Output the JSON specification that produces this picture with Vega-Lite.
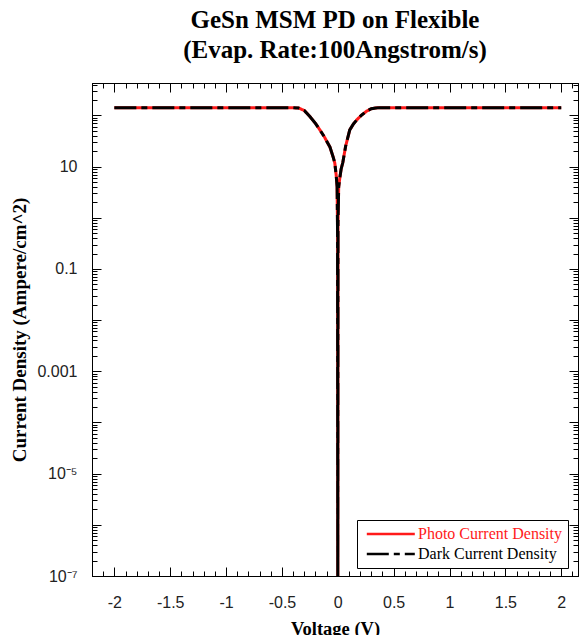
{
  "$schema": "https://vega.github.io/schema/vega-lite/v6.json",
  "autosize": "none",
  "width": 486,
  "height": 493,
  "padding": {"left": 92, "top": 83, "right": 2, "bottom": 59},
  "background": "white",
  "title": {
    "text": ["GeSn MSM PD on Flexible", "(Evap. Rate:100Angstrom/s)"],
    "font": "Liberation Serif",
    "fontSize": 25,
    "fontWeight": "bold",
    "color": "black",
    "anchor": "middle",
    "lineHeight": 30,
    "offset": 14
  },
  "config": {
    "view": {"stroke": "black", "strokeWidth": 1},
    "axis": {
      "grid": false,
      "domainColor": "black",
      "domainWidth": 1,
      "tickColor": "black",
      "tickWidth": 1,
      "labelFont": "Liberation Sans",
      "labelFontSize": 16,
      "labelColor": "#222",
      "labelFlush": false,
      "labelOverlap": false,
      "titleFont": "Liberation Serif",
      "titleFontWeight": "bold",
      "titleColor": "black"
    }
  },
  "datasets": {
    "photo": [
      {"V": -2.0, "J": 142, "series": "Photo Current Density"},
      {"V": -1.5, "J": 142, "series": "Photo Current Density"},
      {"V": -1.0, "J": 142, "series": "Photo Current Density"},
      {"V": -0.5, "J": 142, "series": "Photo Current Density"},
      {"V": -0.4, "J": 141, "series": "Photo Current Density"},
      {"V": -0.35, "J": 139, "series": "Photo Current Density"},
      {"V": -0.3, "J": 125, "series": "Photo Current Density"},
      {"V": -0.25, "J": 95, "series": "Photo Current Density"},
      {"V": -0.2, "J": 70, "series": "Photo Current Density"},
      {"V": -0.16, "J": 52, "series": "Photo Current Density"},
      {"V": -0.12, "J": 38, "series": "Photo Current Density"},
      {"V": -0.07, "J": 24, "series": "Photo Current Density"},
      {"V": -0.04, "J": 15, "series": "Photo Current Density"},
      {"V": -0.027, "J": 11.8, "series": "Photo Current Density"},
      {"V": -0.015, "J": 7, "series": "Photo Current Density"},
      {"V": -0.006, "J": 4, "series": "Photo Current Density"},
      {"V": -0.002, "J": 0.5, "series": "Photo Current Density"},
      {"V": 0, "J": 1e-7, "series": "Photo Current Density"},
      {"V": 0.002, "J": 0.8, "series": "Photo Current Density"},
      {"V": 0.008, "J": 4, "series": "Photo Current Density"},
      {"V": 0.018, "J": 6, "series": "Photo Current Density"},
      {"V": 0.03, "J": 9, "series": "Photo Current Density"},
      {"V": 0.045, "J": 12, "series": "Photo Current Density"},
      {"V": 0.07, "J": 25, "series": "Photo Current Density"},
      {"V": 0.107, "J": 52, "series": "Photo Current Density"},
      {"V": 0.14, "J": 68, "series": "Photo Current Density"},
      {"V": 0.17, "J": 82, "series": "Photo Current Density"},
      {"V": 0.21, "J": 100, "series": "Photo Current Density"},
      {"V": 0.26, "J": 122, "series": "Photo Current Density"},
      {"V": 0.3, "J": 135, "series": "Photo Current Density"},
      {"V": 0.34, "J": 140, "series": "Photo Current Density"},
      {"V": 0.375, "J": 142, "series": "Photo Current Density"},
      {"V": 0.5, "J": 142, "series": "Photo Current Density"},
      {"V": 1.0, "J": 142, "series": "Photo Current Density"},
      {"V": 1.5, "J": 142, "series": "Photo Current Density"},
      {"V": 2.0, "J": 142, "series": "Photo Current Density"}
    ],
    "dark": [
      {"V": -2.0, "J": 142, "series": "Dark Current Density"},
      {"V": -1.5, "J": 142, "series": "Dark Current Density"},
      {"V": -1.0, "J": 142, "series": "Dark Current Density"},
      {"V": -0.5, "J": 142, "series": "Dark Current Density"},
      {"V": -0.4, "J": 141, "series": "Dark Current Density"},
      {"V": -0.35, "J": 139, "series": "Dark Current Density"},
      {"V": -0.3, "J": 125, "series": "Dark Current Density"},
      {"V": -0.25, "J": 95, "series": "Dark Current Density"},
      {"V": -0.2, "J": 70, "series": "Dark Current Density"},
      {"V": -0.16, "J": 52, "series": "Dark Current Density"},
      {"V": -0.12, "J": 38, "series": "Dark Current Density"},
      {"V": -0.07, "J": 24, "series": "Dark Current Density"},
      {"V": -0.04, "J": 15, "series": "Dark Current Density"},
      {"V": -0.027, "J": 11.8, "series": "Dark Current Density"},
      {"V": -0.015, "J": 7, "series": "Dark Current Density"},
      {"V": -0.006, "J": 4, "series": "Dark Current Density"},
      {"V": -0.002, "J": 0.5, "series": "Dark Current Density"},
      {"V": 0, "J": 1e-7, "series": "Dark Current Density"},
      {"V": 0.002, "J": 0.8, "series": "Dark Current Density"},
      {"V": 0.008, "J": 4, "series": "Dark Current Density"},
      {"V": 0.018, "J": 6, "series": "Dark Current Density"},
      {"V": 0.03, "J": 9, "series": "Dark Current Density"},
      {"V": 0.045, "J": 12, "series": "Dark Current Density"},
      {"V": 0.07, "J": 25, "series": "Dark Current Density"},
      {"V": 0.107, "J": 52, "series": "Dark Current Density"},
      {"V": 0.14, "J": 68, "series": "Dark Current Density"},
      {"V": 0.17, "J": 82, "series": "Dark Current Density"},
      {"V": 0.21, "J": 100, "series": "Dark Current Density"},
      {"V": 0.26, "J": 122, "series": "Dark Current Density"},
      {"V": 0.3, "J": 135, "series": "Dark Current Density"},
      {"V": 0.34, "J": 140, "series": "Dark Current Density"},
      {"V": 0.375, "J": 142, "series": "Dark Current Density"},
      {"V": 0.5, "J": 142, "series": "Dark Current Density"},
      {"V": 1.0, "J": 142, "series": "Dark Current Density"},
      {"V": 1.5, "J": 142, "series": "Dark Current Density"},
      {"V": 2.0, "J": 142, "series": "Dark Current Density"}
    ]
  },
  "resolve": {"axis": {"x": "independent", "y": "independent"}},
  "layer": [
    {
      "data": {"name": "photo"},
      "mark": {"type": "line", "strokeWidth": 3, "clip": true},
      "encoding": {
        "x": {
          "field": "V", "type": "quantitative",
          "scale": {"domain": [-2.2, 2.15], "nice": false, "zero": false},
          "axis": {
            "orient": "bottom",
            "title": "Voltage (V)",
            "titleFontSize": 18.5,
            "titlePadding": 5,
            "values": [-2.2,-2.1,-2,-1.9,-1.8,-1.7,-1.6,-1.5,-1.4,-1.3,-1.2,-1.1,-1,-0.9,-0.8,-0.7,-0.6,-0.5,-0.4,-0.3,-0.2,-0.1,0,0.1,0.2,0.3,0.4,0.5,0.6,0.7,0.8,0.9,1,1.1,1.2,1.3,1.4,1.5,1.6,1.7,1.8,1.9,2,2.1],
            "tickSize": {"condition": {"test": "abs(datum.value*2 - round(datum.value*2)) < 0.001", "value": -9}, "value": -5},
            "labelPadding": 27,
            "labelExpr": "abs(datum.value*2 - round(datum.value*2)) < 0.001 ? '' + datum.value : ''"
          }
        },
        "y": {
          "field": "J", "type": "quantitative",
          "scale": {"type": "log", "domain": [1e-7, 430], "nice": false},
          "axis": {
            "orient": "left",
            "title": "Current Density (Ampere/cm^2)",
            "titleFontSize": 19,
            "titlePadding": 7,
            "values": [1e-7,2e-7,3e-7,4e-7,5e-7,6e-7,7e-7,8e-7,9e-7,1e-6,2e-6,3e-6,4e-6,5e-6,6e-6,7e-6,8e-6,9e-6,1e-5,2e-5,3e-5,4e-5,5e-5,6e-5,7e-5,8e-5,9e-5,1e-4,2e-4,3e-4,4e-4,5e-4,6e-4,7e-4,8e-4,9e-4,1e-3,2e-3,3e-3,4e-3,5e-3,6e-3,7e-3,8e-3,9e-3,1e-2,2e-2,3e-2,4e-2,5e-2,6e-2,7e-2,8e-2,9e-2,0.1,0.2,0.3,0.4,0.5,0.6,0.7,0.8,0.9,1,2,3,4,5,6,7,8,9,10,20,30,40,50,60,70,80,90,100,200,300,400],
            "tickSize": {"condition": {"test": "abs(log(datum.value)/LN10 - round(log(datum.value)/LN10)) < 0.001", "value": -9}, "value": -5},
            "labelPadding": 24,
            "labelExpr": "abs(log(datum.value)/LN10 - 1) < 0.001 ? '10' : (abs(log(datum.value)/LN10 + 1) < 0.001 ? '0.1' : (abs(log(datum.value)/LN10 + 3) < 0.001 ? '0.001' : (abs(log(datum.value)/LN10 + 5) < 0.001 ? '10⁻⁵' : (abs(log(datum.value)/LN10 + 7) < 0.001 ? '10⁻⁷' : ''))))"
          }
        },
        "color": {
          "field": "series", "type": "nominal",
          "scale": {"domain": ["Photo Current Density", "Dark Current Density"], "range": ["#ff1a1a", "black"]},
          "legend": {
            "orient": "none",
            "legendX": 265,
            "legendY": 437,
            "title": null,
            "strokeColor": "black",
            "fillColor": "white",
            "padding": 6,
            "symbolType": "M-0.7,0H7.3",
            "symbolSize": 144,
            "symbolStrokeWidth": 2.5,
            "labelFont": "Liberation Serif",
            "labelFontSize": 16,
            "labelOffset": 39,
            "rowPadding": 4,
            "labelColor": {"expr": "datum.label == 'Photo Current Density' ? '#ff1a1a' : 'black'"}
          }
        },
        "strokeDash": {
          "field": "series", "type": "nominal",
          "scale": {"domain": ["Photo Current Density", "Dark Current Density"], "range": [[1, 0], [22, 5, 6, 5]]},
          "legend": null
        }
      }
    },
    {
      "data": {"name": "dark"},
      "mark": {"type": "line", "strokeWidth": 3, "clip": true},
      "encoding": {
        "x": {
          "field": "V", "type": "quantitative",
          "axis": {
            "orient": "top",
            "title": null,
            "labels": false,
            "values": [-2.2,-2.1,-2,-1.9,-1.8,-1.7,-1.6,-1.5,-1.4,-1.3,-1.2,-1.1,-1,-0.9,-0.8,-0.7,-0.6,-0.5,-0.4,-0.3,-0.2,-0.1,0,0.1,0.2,0.3,0.4,0.5,0.6,0.7,0.8,0.9,1,1.1,1.2,1.3,1.4,1.5,1.6,1.7,1.8,1.9,2,2.1],
            "tickSize": {"condition": {"test": "abs(datum.value*2 - round(datum.value*2)) < 0.001", "value": -9}, "value": -5}
          }
        },
        "y": {
          "field": "J", "type": "quantitative",
          "axis": {
            "orient": "right",
            "title": null,
            "labels": false,
            "values": [1e-7,2e-7,3e-7,4e-7,5e-7,6e-7,7e-7,8e-7,9e-7,1e-6,2e-6,3e-6,4e-6,5e-6,6e-6,7e-6,8e-6,9e-6,1e-5,2e-5,3e-5,4e-5,5e-5,6e-5,7e-5,8e-5,9e-5,1e-4,2e-4,3e-4,4e-4,5e-4,6e-4,7e-4,8e-4,9e-4,1e-3,2e-3,3e-3,4e-3,5e-3,6e-3,7e-3,8e-3,9e-3,1e-2,2e-2,3e-2,4e-2,5e-2,6e-2,7e-2,8e-2,9e-2,0.1,0.2,0.3,0.4,0.5,0.6,0.7,0.8,0.9,1,2,3,4,5,6,7,8,9,10,20,30,40,50,60,70,80,90,100,200,300,400],
            "tickSize": {"condition": {"test": "abs(log(datum.value)/LN10 - round(log(datum.value)/LN10)) < 0.001", "value": -9}, "value": -5}
          }
        },
        "color": {"field": "series", "type": "nominal"},
        "strokeDash": {"field": "series", "type": "nominal"}
      }
    }
  ]
}
